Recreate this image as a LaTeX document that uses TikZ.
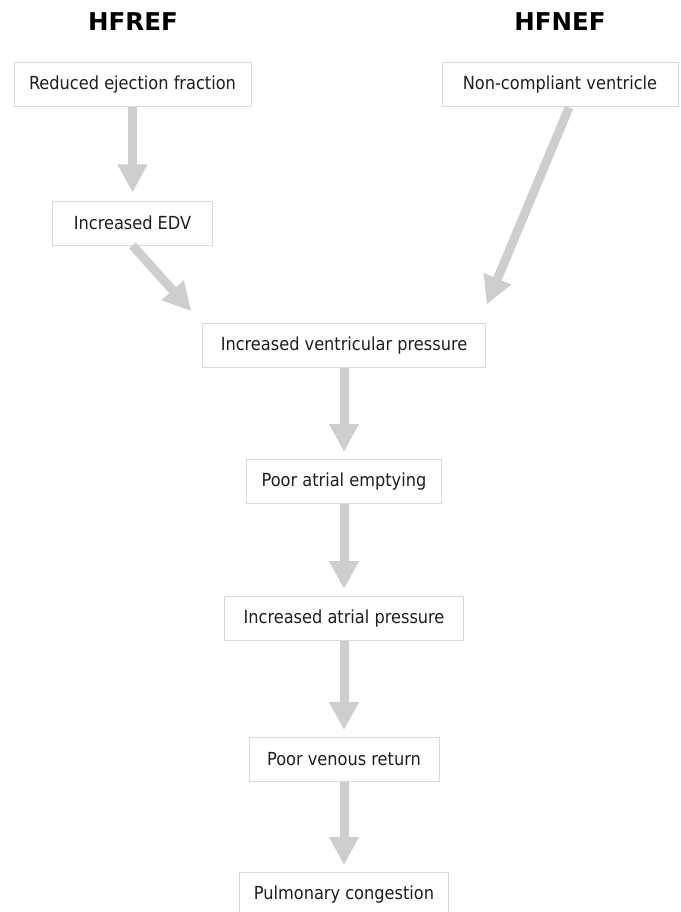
\documentclass[tikz,border=0pt]{standalone}
\usepackage{fontspec}
\setmainfont{DejaVu Sans}
\newfontfamily\stagefont{DejaVu Sans Condensed}
\usepackage{tikz}
\usetikzlibrary{positioning}
\usetikzlibrary{arrows.meta}

\definecolor{boxline}{RGB}{217,217,217}
\definecolor{flowgray}{RGB}{206,206,206}
\definecolor{txtgray}{RGB}{30,30,30}

\begin{document}
\begin{tikzpicture}[x=1pt,y=-1pt,
	stage/.style={rectangle,draw=boxline,line width=1pt,text=txtgray,inner xsep=4pt,minimum width=#1,minimum height=44pt,font=\stagefont\fontsize{18}{21}\selectfont},
	heading/.style={font=\bfseries\fontsize{24.5}{28}\selectfont},
	flow/.style={draw=flowgray,line width=9pt,-{Triangle[width=28pt,length=28pt]}},
	node distance=92pt]
	\useasboundingbox (0,0) rectangle (680,912);
	\node [heading] (hfref) at (133,22) {HFREF};
	\node [heading] (hfnef) at (560,22) {HFNEF};
	\node [stage=237pt] (red) at (132.5,85) {Reduced ejection fraction};
	\node [stage=236pt] (ncv) at (560,85) {Non-compliant ventricle};
	\node [stage=160pt, below=93pt of red] (edv) {Increased EDV};
	\node [stage=283pt] (ivp) at (344,345.5) {Increased ventricular pressure};
	\node [stage=195pt, below=91pt of ivp] (pae) {Poor atrial emptying};
	\node [stage=239pt, below=92pt of pae] (iap) {Increased atrial pressure};
	\node [stage=190pt, below=96pt of iap] (pvr) {Poor venous return};
	\node [stage=209pt, below=90pt of pvr] (pc) {Pulmonary congestion};
	\draw [flow, shorten >=8pt] (red) -- (edv);
	\draw [flow, shorten >=16pt] (edv.south) -- (ivp.north west);
	\draw [flow, shorten >=20pt] ([xshift=9pt]ncv.south) -- ([xshift=-7pt]ivp.north east);
	\foreach \a/\b in {ivp/pae,pae/iap,iap/pvr,pvr/pc}
		\draw [flow, shorten >=7pt] (\a) -- (\b);
\end{tikzpicture}
\end{document}
